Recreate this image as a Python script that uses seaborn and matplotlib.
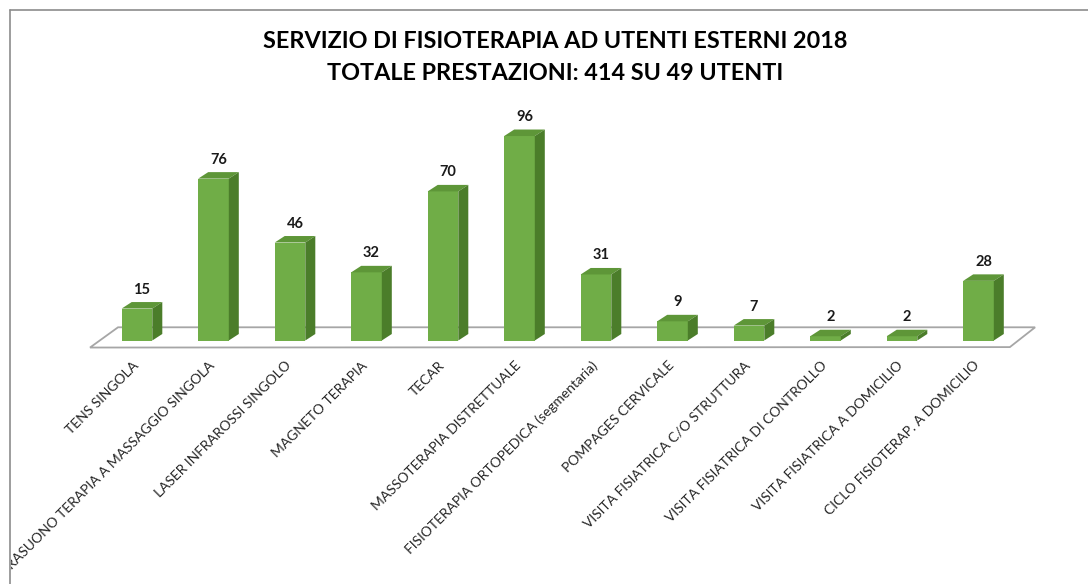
import numpy as np
import pandas as pd
import matplotlib
matplotlib.use('Agg')
import matplotlib.pyplot as plt
import matplotlib.transforms as mtransforms
from matplotlib.patches import Polygon
from matplotlib.lines import Line2D
import seaborn as sns

categories = [
    'TENS SINGOLA',
    'ULTRASUONO TERAPIA A MASSAGGIO SINGOLA',
    'LASER INFRAROSSI SINGOLO',
    'MAGNETO TERAPIA',
    'TECAR',
    'MASSOTERAPIA DISTRETTUALE',
    'FISIOTERAPIA ORTOPEDICA (segmentaria)',
    'POMPAGES CERVICALE',
    'VISITA FISIATRICA C/O STRUTTURA',
    'VISITA FISIATRICA DI CONTROLLO',
    'VISITA FISIATRICA A DOMICILIO',
    'CICLO FISIOTERAP. A DOMICILIO',
]
values = [15, 76, 46, 32, 70, 96, 31, 9, 7, 2, 2, 28]
title_lines = ['SERVIZIO DI FISIOTERAPIA AD UTENTI ESTERNI 2018',
               'TOTALE PRESTAZIONI: 414 SU 49 UTENTI']

df = pd.DataFrame({'cat': categories, 'val': values})

sns.set_style('white')
plt.rcParams['font.family'] = ['Lato', 'DejaVu Sans']

W, H = 1088, 584
fig = plt.figure(figsize=(W / 100, H / 100), dpi=100)
# axes placed in pixels: slot 76.5px, base at y=340.5, 2.13 px per unit
ax = fig.add_axes([98.75 / W, 1 - 340.5 / H, 918 / W, 213 / H])

front = '#70AD47'
side = '#4B7D2A'
top = '#5E9638'

sns.barplot(data=df, x='cat', y='val', color=front, width=0.4,
            saturation=1, linewidth=0, ax=ax, zorder=3)
ax.set_xlim(-0.5, len(categories) - 0.5)
ax.set_ylim(0, 100)

# 3D depth offsets in data units
dx = 10 / 76.5
dy = 6.5 / 2.13

for p in ax.patches:
    x0 = p.get_x()
    w = p.get_width()
    h = p.get_height()
    x1 = x0 + w
    ax.add_patch(Polygon([(x0, h), (x1, h), (x1 + dx, h + dy), (x0 + dx, h + dy)],
                         closed=True, facecolor=top, edgecolor='none', zorder=3,
                         clip_on=False))
    ax.add_patch(Polygon([(x1, 0), (x1 + dx, dy), (x1 + dx, h + dy), (x1, h)],
                         closed=True, facecolor=side, edgecolor='none', zorder=3,
                         clip_on=False))
    ax.annotate(f'{int(round(h))}', (x0 + w / 2 + dx / 2, h + dy),
                xytext=(0, 9), textcoords='offset points', ha='center',
                va='center', fontsize=10.5, fontweight='bold', color='#1a1a1a',
                zorder=5, annotation_clip=False)

# floor
xl, xr = ax.get_xlim()
floor = Polygon([(xl - 0.114, -3.3), (xl + 0.252, 6.2), (xr + 0.24, 6.2),
                 (xr - 0.09, -3.1)], closed=True, facecolor='white',
                edgecolor='#a6a6a6', linewidth=1.3, zorder=1, clip_on=False)
ax.add_patch(floor)

ax.set_xlabel('')
ax.set_ylabel('')
ax.set_yticks([])
for s in ax.spines.values():
    s.set_visible(False)
ax.tick_params(axis='x', length=0, pad=13.5)
ax.set_xticks(range(len(categories)))
ax.set_xticklabels(categories, rotation=45, ha='right', rotation_mode='anchor',
                   fontsize=10, color='#262626')
shift = mtransforms.ScaledTranslation(-5 / 100, 0, fig.dpi_scale_trans)
# the chart area clips the long label at its left border, as in the original
clip = mtransforms.TransformedBbox(
    mtransforms.Bbox([[11 / W, 0], [1, 1 - 11 / H]]), fig.transFigure)
for lab in ax.get_xticklabels():
    lab.set_transform(lab.get_transform() + shift)
    lab.set_clip_on(True)
    lab.set_clip_box(clip)

fig.text(555 / W, 1 - 42 / H, title_lines[0], ha='center', va='center',
         fontsize=16.8, fontweight='bold', color='black')
fig.text(555 / W, 1 - 74 / H, title_lines[1], ha='center', va='center',
         fontsize=16.8, fontweight='bold', color='black')

# chart area border (top and left edges visible)
fig.add_artist(Line2D([10 / W, 10 / W], [0, 1 - 10 / H], color='#8c8c8c', lw=1.2))
fig.add_artist(Line2D([10 / W, 1], [1 - 10 / H, 1 - 10 / H], color='#8c8c8c', lw=1.2))

fig.savefig('out.png', dpi=100)
